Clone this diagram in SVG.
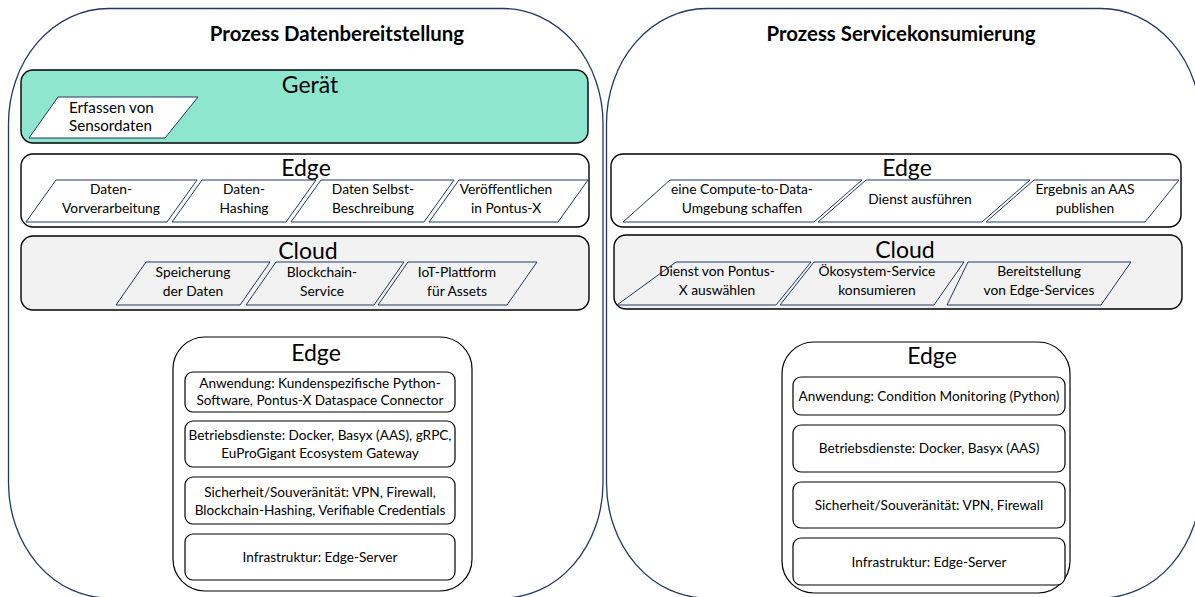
<svg xmlns="http://www.w3.org/2000/svg" width="1195" height="597" viewBox="0 0 1195 597">
  <style>
    text { font-family: Lato, "Open Sans", sans-serif; fill: #000; }
    .title { font-size: 20.4px; font-weight: bold; text-anchor: middle; }
    .layer { font-size: 23px; text-anchor: middle; }
    .t { font-size: 13.8px; text-anchor: middle; }
    .ts { font-size: 13.6px; text-anchor: middle; }
    .process { fill: #fff; stroke: #203864; stroke-width: 1.3; }
    .row { stroke: #000; stroke-width: 1.4; }
    .para { fill: #fff; stroke: #203864; stroke-width: 1; }
    .para-c { fill: none; stroke: #203864; stroke-width: 1; }
    .box { fill: #fff; stroke: #000; stroke-width: 1.2; }
  </style>

  <!-- Process: data provision -->
  <g id="process-provision">
    <rect class="process" x="8.5" y="8.5" width="594.5" height="589.5" rx="100" ry="115"/>
    <text class="title" x="337" y="41">Prozess Datenbereitstellung</text>
  </g>

  <!-- Process: service consumption -->
  <g id="process-consumption">
    <rect class="process" x="606.5" y="8.5" width="594.5" height="589.5" rx="100" ry="115"/>
    <text class="title" x="901" y="41">Prozess Servicekonsumierung</text>
  </g>

  <!-- Device layer -->
  <g id="device-left">
    <rect class="row" x="21" y="70" width="567" height="73" rx="12" fill="#8EE6CF"/>
    <text class="layer" x="310" y="93">Gerät</text>
    <polygon class="para" points="58,97 198,97 165,138 29,138"/>
    <text x="69" y="113" font-size="15.2">Erfassen von</text>
    <text x="69" y="131" font-size="15.2">Sensordaten</text>
  </g>

  <!-- Edge layer, provision -->
  <g id="edge-left">
    <rect class="row" x="21" y="154" width="568" height="73" rx="12" fill="#fff"/>
    <text class="layer" x="306" y="176">Edge</text>
    <polygon class="para" points="56,180 197,180 167,222 26,222"/>
    <text class="t" x="111" y="194">Daten-</text>
    <text class="t" x="111" y="213">Vorverarbeitung</text>
    <polygon class="para" points="202,180 316,180 286,222 172,222"/>
    <text class="t" x="244" y="194">Daten-</text>
    <text class="t" x="244" y="213">Hashing</text>
    <polygon class="para" points="321,180 454,180 424,222 291,222"/>
    <text class="t" x="373" y="194">Daten Selbst-</text>
    <text class="t" x="373" y="213">Beschreibung</text>
    <polygon class="para" points="459,180 588,180 558,222 429,222"/>
    <text class="t" x="506" y="194">Veröffentlichen</text>
    <text class="t" x="506" y="213">in Pontus-X</text>
  </g>

  <!-- Cloud layer, provision -->
  <g id="cloud-left">
    <rect class="row" x="21" y="236" width="568" height="74" rx="12" fill="#F2F2F2"/>
    <text class="layer" x="308" y="259">Cloud</text>
    <polygon class="para-c" points="146,262 270,262 240,305 116,305"/>
    <text class="t" x="193" y="277">Speicherung</text>
    <text class="t" x="193" y="296">der Daten</text>
    <polygon class="para-c" points="276,262 404,262 374,305 246,305"/>
    <text class="t" x="322" y="277">Blockchain-</text>
    <text class="t" x="322" y="296">Service</text>
    <polygon class="para-c" points="408,262 537,262 507,305 378,305"/>
    <text class="t" x="457" y="277">IoT-Plattform</text>
    <text class="t" x="457" y="296">für Assets</text>
  </g>

  <!-- Edge layer, consumption -->
  <g id="edge-right">
    <rect class="row" x="611" y="154" width="570" height="73" rx="12" fill="#fff"/>
    <text class="layer" x="907" y="176">Edge</text>
    <polygon class="para" points="670,180 862,180 814,222 623,222"/>
    <text class="t" x="742" y="194">eine Compute-to-Data-</text>
    <text class="t" x="742" y="213">Umgebung schaffen</text>
    <polygon class="para" points="866,180 1030,180 982,222 818,222"/>
    <text class="t" x="920" y="204">Dienst ausführen</text>
    <polygon class="para" points="1034,180 1179,180 1145,222 986,222"/>
    <text class="t" x="1085" y="194">Ergebnis an AAS</text>
    <text class="t" x="1085" y="213">publishen</text>
  </g>

  <!-- Cloud layer, consumption -->
  <g id="cloud-right">
    <rect class="row" x="614" y="235" width="568" height="74" rx="12" fill="#F2F2F2"/>
    <text class="layer" x="905" y="258">Cloud</text>
    <polygon class="para-c" points="676,262 811,262 776,305 617,305"/>
    <text class="t" x="717" y="276">Dienst von Pontus-</text>
    <text class="t" x="717" y="295">X auswählen</text>
    <polygon class="para-c" points="814,262 964,262 934,305 780,305"/>
    <text class="t" x="877" y="276">Ökosystem-Service</text>
    <text class="t" x="877" y="295">konsumieren</text>
    <polygon class="para-c" points="968,262 1131,262 1101,305 947,305"/>
    <text class="t" x="1039" y="276">Bereitstellung</text>
    <text class="t" x="1039" y="295">von Edge-Services</text>
  </g>

  <!-- Edge stack, provision -->
  <g id="stack-left">
    <rect class="box" x="173" y="337" width="299" height="254" rx="32"/>
    <text class="layer" x="316" y="361">Edge</text>
    <rect class="box" x="185" y="372" width="270" height="40" rx="8"/>
    <text class="ts" x="320" y="388">Anwendung: Kundenspezifische Python-</text>
    <text class="ts" x="320" y="405">Software, Pontus-X Dataspace Connector</text>
    <rect class="box" x="185" y="421" width="270" height="46" rx="8"/>
    <text class="ts" x="320" y="440">Betriebsdienste: Docker, Basyx (AAS), gRPC,</text>
    <text class="ts" x="320" y="458">EuProGigant Ecosystem Gateway</text>
    <rect class="box" x="185" y="477" width="270" height="47" rx="8"/>
    <text class="ts" x="320" y="497">Sicherheit/Souveränität: VPN, Firewall,</text>
    <text class="ts" x="320" y="515">Blockchain-Hashing, Verifiable Credentials</text>
    <rect class="box" x="185" y="534" width="270" height="46" rx="8"/>
    <text class="ts" x="320" y="562">Infrastruktur: Edge-Server</text>
  </g>

  <!-- Edge stack, consumption -->
  <g id="stack-right">
    <rect class="box" x="782" y="342" width="288" height="251" rx="32"/>
    <text class="layer" x="932" y="364">Edge</text>
    <rect class="box" x="793" y="377" width="272" height="38" rx="8"/>
    <text class="ts" x="929" y="401">Anwendung: Condition Monitoring (Python)</text>
    <rect class="box" x="793" y="425" width="272" height="47" rx="8"/>
    <text class="ts" x="929" y="453">Betriebsdienste: Docker, Basyx (AAS)</text>
    <rect class="box" x="793" y="482" width="272" height="46" rx="8"/>
    <text class="ts" x="929" y="510">Sicherheit/Souveränität: VPN, Firewall</text>
    <rect class="box" x="793" y="538" width="272" height="47" rx="8"/>
    <text class="ts" x="929" y="567">Infrastruktur: Edge-Server</text>
  </g>

  <!-- no connectors in this diagram -->
  <g id="connectors"/>
</svg>
